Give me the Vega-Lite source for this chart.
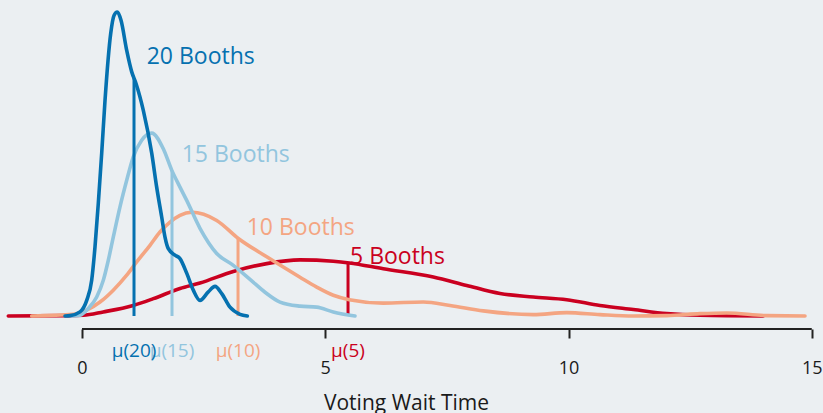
{
  "$schema": "https://vega.github.io/schema/vega-lite/v6.json",
  "width": 823,
  "height": 329,
  "autosize": {"type": "none"},
  "padding": {"left": 0, "top": 0, "right": 0, "bottom": 84},
  "background": "#ebeff2",
  "config": {"view": {"stroke": null}, "font": "Open Sans"},
  "datasets": {
    "curves": [
      {"booths": "5 Booths", "x": -1.515, "density": 0},
      {"booths": "5 Booths", "x": -0.314, "density": 0.001},
      {"booths": "5 Booths", "x": 0.027, "density": 0.002},
      {"booths": "5 Booths", "x": 0.438, "density": 0.012},
      {"booths": "5 Booths", "x": 1.054, "density": 0.031},
      {"booths": "5 Booths", "x": 1.466, "density": 0.051},
      {"booths": "5 Booths", "x": 2.014, "density": 0.081},
      {"booths": "5 Booths", "x": 2.425, "density": 0.097},
      {"booths": "5 Booths", "x": 3.11, "density": 0.131},
      {"booths": "5 Booths", "x": 3.797, "density": 0.154},
      {"booths": "5 Booths", "x": 4.481, "density": 0.165},
      {"booths": "5 Booths", "x": 5.165, "density": 0.161},
      {"booths": "5 Booths", "x": 5.494, "density": 0.156},
      {"booths": "5 Booths", "x": 6.193, "density": 0.139},
      {"booths": "5 Booths", "x": 7.221, "density": 0.115},
      {"booths": "5 Booths", "x": 7.907, "density": 0.09},
      {"booths": "5 Booths", "x": 8.592, "density": 0.066},
      {"booths": "5 Booths", "x": 9.276, "density": 0.056},
      {"booths": "5 Booths", "x": 9.963, "density": 0.048},
      {"booths": "5 Booths", "x": 10.647, "density": 0.031},
      {"booths": "5 Booths", "x": 11.332, "density": 0.019},
      {"booths": "5 Booths", "x": 12.019, "density": 0.007},
      {"booths": "5 Booths", "x": 12.703, "density": 0.002},
      {"booths": "5 Booths", "x": 14.004, "density": 0},

      {"booths": "10 Booths", "x": -1.034, "density": 0},
      {"booths": "10 Booths", "x": -0.179, "density": 0.005},
      {"booths": "10 Booths", "x": 0.097, "density": 0.017},
      {"booths": "10 Booths", "x": 0.37, "density": 0.041},
      {"booths": "10 Booths", "x": 0.643, "density": 0.076},
      {"booths": "10 Booths", "x": 0.919, "density": 0.12},
      {"booths": "10 Booths", "x": 1.124, "density": 0.159},
      {"booths": "10 Booths", "x": 1.398, "density": 0.208},
      {"booths": "10 Booths", "x": 1.603, "density": 0.247},
      {"booths": "10 Booths", "x": 1.809, "density": 0.276},
      {"booths": "10 Booths", "x": 2.014, "density": 0.296},
      {"booths": "10 Booths", "x": 2.255, "density": 0.305},
      {"booths": "10 Booths", "x": 2.769, "density": 0.281},
      {"booths": "10 Booths", "x": 3.213, "density": 0.228},
      {"booths": "10 Booths", "x": 3.797, "density": 0.174},
      {"booths": "10 Booths", "x": 4.481, "density": 0.114},
      {"booths": "10 Booths", "x": 4.824, "density": 0.085},
      {"booths": "10 Booths", "x": 5.165, "density": 0.061},
      {"booths": "10 Booths", "x": 5.494, "density": 0.048},
      {"booths": "10 Booths", "x": 6.193, "density": 0.038},
      {"booths": "10 Booths", "x": 7.016, "density": 0.041},
      {"booths": "10 Booths", "x": 7.564, "density": 0.031},
      {"booths": "10 Booths", "x": 8.249, "density": 0.015},
      {"booths": "10 Booths", "x": 9.276, "density": 0.004},
      {"booths": "10 Booths", "x": 9.963, "density": 0.01},
      {"booths": "10 Booths", "x": 10.647, "density": 0.004},
      {"booths": "10 Booths", "x": 11.332, "density": 0},
      {"booths": "10 Booths", "x": 12.019, "density": 0.001},
      {"booths": "10 Booths", "x": 12.703, "density": 0.007},
      {"booths": "10 Booths", "x": 13.252, "density": 0.009},
      {"booths": "10 Booths", "x": 14.074, "density": 0.001},
      {"booths": "10 Booths", "x": 14.861, "density": 0},

      {"booths": "15 Booths", "x": -0.212, "density": 0},
      {"booths": "15 Booths", "x": -0.041, "density": 0.002},
      {"booths": "15 Booths", "x": 0.129, "density": 0.022},
      {"booths": "15 Booths", "x": 0.302, "density": 0.056},
      {"booths": "15 Booths", "x": 0.438, "density": 0.105},
      {"booths": "15 Booths", "x": 0.541, "density": 0.164},
      {"booths": "15 Booths", "x": 0.643, "density": 0.232},
      {"booths": "15 Booths", "x": 0.781, "density": 0.321},
      {"booths": "15 Booths", "x": 0.919, "density": 0.399},
      {"booths": "15 Booths", "x": 1.054, "density": 0.468},
      {"booths": "15 Booths", "x": 1.227, "density": 0.517},
      {"booths": "15 Booths", "x": 1.433, "density": 0.538},
      {"booths": "15 Booths", "x": 1.671, "density": 0.492},
      {"booths": "15 Booths", "x": 1.844, "density": 0.429},
      {"booths": "15 Booths", "x": 2.014, "density": 0.379},
      {"booths": "15 Booths", "x": 2.152, "density": 0.34},
      {"booths": "15 Booths", "x": 2.425, "density": 0.258},
      {"booths": "15 Booths", "x": 2.769, "density": 0.184},
      {"booths": "15 Booths", "x": 3.11, "density": 0.149},
      {"booths": "15 Booths", "x": 3.453, "density": 0.108},
      {"booths": "15 Booths", "x": 3.762, "density": 0.07},
      {"booths": "15 Booths", "x": 4.07, "density": 0.041},
      {"booths": "15 Booths", "x": 4.481, "density": 0.029},
      {"booths": "15 Booths", "x": 4.824, "density": 0.026},
      {"booths": "15 Booths", "x": 5.165, "density": 0.012},
      {"booths": "15 Booths", "x": 5.611, "density": 0},

      {"booths": "20 Booths", "x": -0.349, "density": 0},
      {"booths": "20 Booths", "x": -0.247, "density": 0.001},
      {"booths": "20 Booths", "x": -0.041, "density": 0.012},
      {"booths": "20 Booths", "x": 0.097, "density": 0.046},
      {"booths": "20 Booths", "x": 0.199, "density": 0.105},
      {"booths": "20 Booths", "x": 0.267, "density": 0.203},
      {"booths": "20 Booths", "x": 0.335, "density": 0.331},
      {"booths": "20 Booths", "x": 0.405, "density": 0.479},
      {"booths": "20 Booths", "x": 0.473, "density": 0.634},
      {"booths": "20 Booths", "x": 0.59, "density": 0.831},
      {"booths": "20 Booths", "x": 0.658, "density": 0.884},
      {"booths": "20 Booths", "x": 0.726, "density": 0.894},
      {"booths": "20 Booths", "x": 0.802, "density": 0.87},
      {"booths": "20 Booths", "x": 0.919, "density": 0.781},
      {"booths": "20 Booths", "x": 1.022, "density": 0.718},
      {"booths": "20 Booths", "x": 1.11, "density": 0.684},
      {"booths": "20 Booths", "x": 1.26, "density": 0.605},
      {"booths": "20 Booths", "x": 1.433, "density": 0.479},
      {"booths": "20 Booths", "x": 1.535, "density": 0.379},
      {"booths": "20 Booths", "x": 1.638, "density": 0.291},
      {"booths": "20 Booths", "x": 1.706, "density": 0.232},
      {"booths": "20 Booths", "x": 1.774, "density": 0.198},
      {"booths": "20 Booths", "x": 1.912, "density": 0.179},
      {"booths": "20 Booths", "x": 2.014, "density": 0.169},
      {"booths": "20 Booths", "x": 2.152, "density": 0.126},
      {"booths": "20 Booths", "x": 2.288, "density": 0.076},
      {"booths": "20 Booths", "x": 2.425, "density": 0.046},
      {"booths": "20 Booths", "x": 2.596, "density": 0.071},
      {"booths": "20 Booths", "x": 2.734, "density": 0.087},
      {"booths": "20 Booths", "x": 2.872, "density": 0.066},
      {"booths": "20 Booths", "x": 3.042, "density": 0.026},
      {"booths": "20 Booths", "x": 3.248, "density": 0.005},
      {"booths": "20 Booths", "x": 3.398, "density": 0}
    ],
    "means": [
      {"booths": "5 Booths", "mean": 5.468, "mean_density": 0.156, "label_x": 5.509, "label_y": 0.154, "mu": "μ(5)"},
      {"booths": "10 Booths", "mean": 3.207, "mean_density": 0.228, "label_x": 3.385, "label_y": 0.237, "mu": "μ(10)"},
      {"booths": "15 Booths", "mean": 1.85, "mean_density": 0.427, "label_x": 2.049, "label_y": 0.453, "mu": "μ(15)"},
      {"booths": "20 Booths", "mean": 1.069, "mean_density": 0.7, "label_x": 1.329, "label_y": 0.742, "mu": "μ(20)"}
    ],
    "axisline": [
      {"start": 0, "end": 15}
    ]
  },
  "layer": [
    {
      "data": {"name": "curves"},
      "transform": [{"filter": "datum.booths === '5 Booths'"}],
      "mark": {"type": "line", "interpolate": "monotone", "strokeWidth": 3.6, "strokeCap": "round"},
      "encoding": {
        "x": {"field": "x", "type": "quantitative", "title": "Voting Wait Time", "scale": {"domain": [-1.6855, 15.231], "nice": false, "zero": false},
          "axis": {"values": [0, 5, 10, 15], "domain": false, "grid": false, "ticks": true, "tickSize": 9, "tickWidth": 2, "tickColor": "#222222",
            "labelFont": "Open Sans", "labelFontSize": 18, "labelColor": "#1a1a1a", "labelPadding": 21, "labelFlush": false, "labelOverlap": false,
            "titleFont": "Open Sans", "titleFontSize": 21, "titleFontWeight": "normal", "titleColor": "#1a1a1a",
            "titleBaseline": "alphabetic", "titleY": 80, "titleX": 406}},
        "y": {"field": "density", "type": "quantitative", "scale": {"domain": [-0.03824, 0.9294], "nice": false, "zero": false}, "axis": null},
        "color": {"field": "booths", "type": "nominal", "scale": {"domain": ["5 Booths", "10 Booths", "15 Booths", "20 Booths"], "range": ["#ca0020", "#f4a582", "#92c5de", "#0571b0"]}, "legend": null}
      }
    },
    {
      "data": {"name": "means"},
      "transform": [{"filter": "datum.booths === '5 Booths'"}],
      "mark": {"type": "rule", "strokeWidth": 3},
      "encoding": {
        "x": {"field": "mean", "type": "quantitative", "title": "Voting Wait Time"},
        "y": {"field": "mean_density", "type": "quantitative", "axis": null},
        "y2": {"datum": 0},
        "color": {"field": "booths", "type": "nominal", "legend": null}
      }
    },
    {
      "data": {"name": "curves"},
      "transform": [{"filter": "datum.booths === '10 Booths'"}],
      "mark": {"type": "line", "interpolate": "monotone", "strokeWidth": 3.6, "strokeCap": "round"},
      "encoding": {
        "x": {"field": "x", "type": "quantitative", "title": "Voting Wait Time"},
        "y": {"field": "density", "type": "quantitative", "axis": null},
        "color": {"field": "booths", "type": "nominal", "legend": null}
      }
    },
    {
      "data": {"name": "means"},
      "transform": [{"filter": "datum.booths === '10 Booths'"}],
      "mark": {"type": "rule", "strokeWidth": 3},
      "encoding": {
        "x": {"field": "mean", "type": "quantitative", "title": "Voting Wait Time"},
        "y": {"field": "mean_density", "type": "quantitative", "axis": null},
        "y2": {"datum": 0},
        "color": {"field": "booths", "type": "nominal", "legend": null}
      }
    },
    {
      "data": {"name": "curves"},
      "transform": [{"filter": "datum.booths === '15 Booths'"}],
      "mark": {"type": "line", "interpolate": "monotone", "strokeWidth": 3.6, "strokeCap": "round"},
      "encoding": {
        "x": {"field": "x", "type": "quantitative", "title": "Voting Wait Time"},
        "y": {"field": "density", "type": "quantitative", "axis": null},
        "color": {"field": "booths", "type": "nominal", "legend": null}
      }
    },
    {
      "data": {"name": "means"},
      "transform": [{"filter": "datum.booths === '15 Booths'"}],
      "mark": {"type": "rule", "strokeWidth": 3},
      "encoding": {
        "x": {"field": "mean", "type": "quantitative", "title": "Voting Wait Time"},
        "y": {"field": "mean_density", "type": "quantitative", "axis": null},
        "y2": {"datum": 0},
        "color": {"field": "booths", "type": "nominal", "legend": null}
      }
    },
    {
      "data": {"name": "curves"},
      "transform": [{"filter": "datum.booths === '20 Booths'"}],
      "mark": {"type": "line", "interpolate": "monotone", "strokeWidth": 3.6, "strokeCap": "round"},
      "encoding": {
        "x": {"field": "x", "type": "quantitative", "title": "Voting Wait Time"},
        "y": {"field": "density", "type": "quantitative", "axis": null},
        "color": {"field": "booths", "type": "nominal", "legend": null}
      }
    },
    {
      "data": {"name": "means"},
      "transform": [{"filter": "datum.booths === '20 Booths'"}],
      "mark": {"type": "rule", "strokeWidth": 3},
      "encoding": {
        "x": {"field": "mean", "type": "quantitative", "title": "Voting Wait Time"},
        "y": {"field": "mean_density", "type": "quantitative", "axis": null},
        "y2": {"datum": 0},
        "color": {"field": "booths", "type": "nominal", "legend": null}
      }
    },
    {
      "data": {"name": "axisline"},
      "mark": {"type": "rule", "strokeWidth": 2, "color": "#222222"},
      "encoding": {
        "x": {"field": "start", "type": "quantitative", "title": "Voting Wait Time"},
        "x2": {"field": "end"},
        "y": {"datum": -0.03824, "type": "quantitative", "axis": null}
      }
    },
    {
      "data": {"name": "means"},
      "mark": {"type": "text", "align": "left", "baseline": "alphabetic", "fontSize": 23, "font": "Open Sans"},
      "encoding": {
        "x": {"field": "label_x", "type": "quantitative", "title": "Voting Wait Time"},
        "y": {"field": "label_y", "type": "quantitative", "axis": null},
        "text": {"field": "booths", "type": "nominal"},
        "color": {"field": "booths", "type": "nominal", "legend": null}
      }
    },
    {
      "data": {"name": "means"},
      "mark": {"type": "text", "align": "center", "baseline": "alphabetic", "fontSize": 19, "font": "Open Sans", "dy": 41},
      "encoding": {
        "x": {"field": "mean", "type": "quantitative", "title": "Voting Wait Time"},
        "y": {"datum": 0, "type": "quantitative", "axis": null},
        "text": {"field": "mu", "type": "nominal"},
        "color": {"field": "booths", "type": "nominal", "legend": null}
      }
    }
  ]
}
